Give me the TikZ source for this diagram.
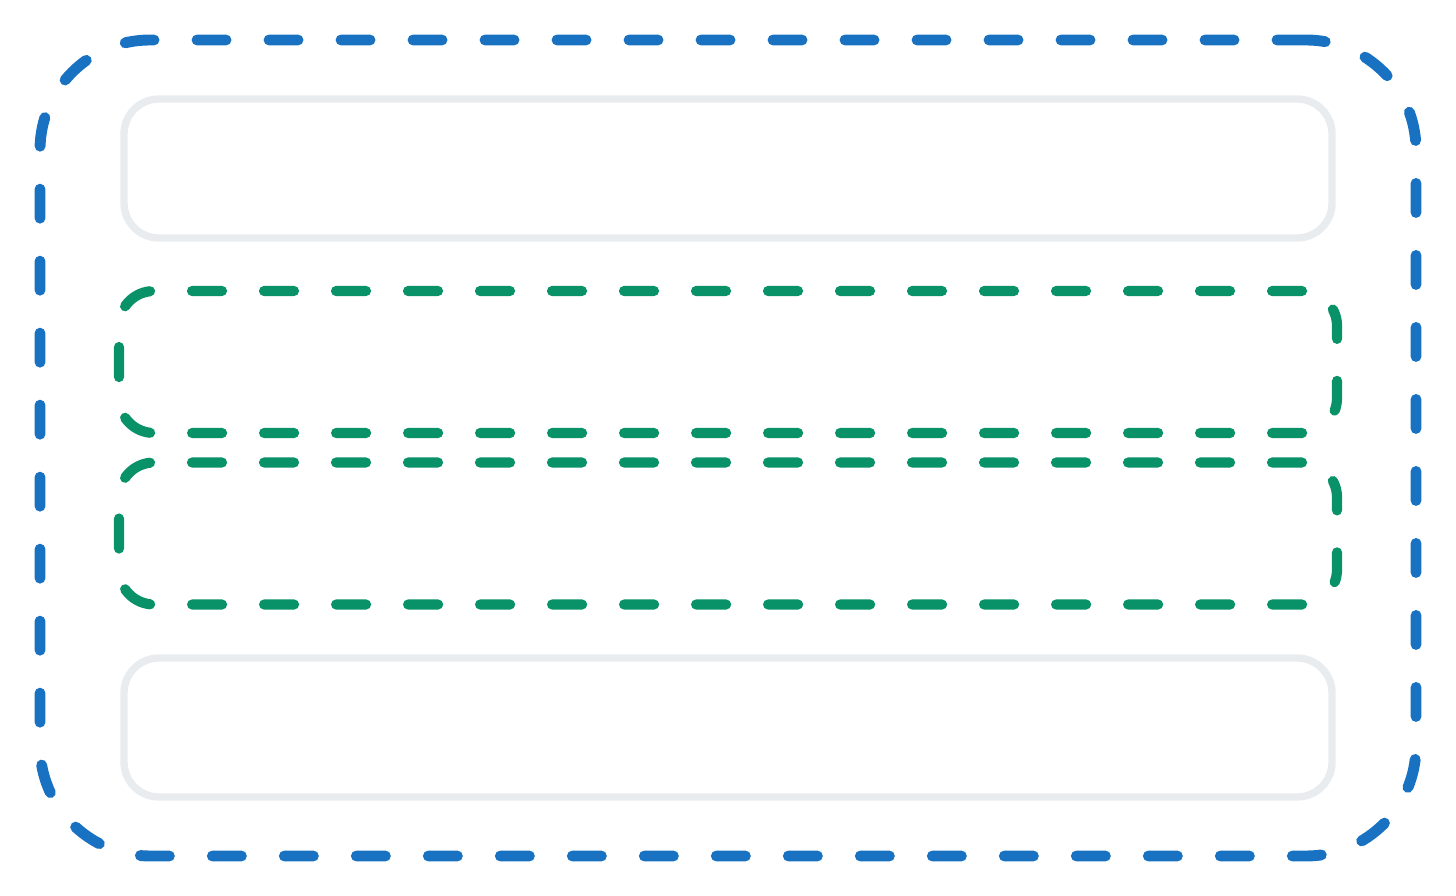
\documentclass[tikz,border=0pt]{standalone}
\usepackage{tikz}
\usetikzlibrary{positioning}

\definecolor{frameblue}{HTML}{1971C2}
\definecolor{slotgreen}{HTML}{099268}
\definecolor{slotgray}{HTML}{E9ECEF}

\begin{document}
\begin{tikzpicture}[
                outer/.style={rectangle,draw=frameblue,line width=3.1pt,rounded corners=1.1cm,
                    dash pattern=on 0.29cm off 0.43cm,line cap=round,minimum width=13.76cm,minimum height=8.16cm},
                solid slot/.style={rectangle,draw=slotgray,line width=2.1pt,rounded corners=0.35cm,
                    minimum width=12.08cm,minimum height=1.39cm},
                dashed slot/.style={rectangle,draw=slotgreen,line width=2.9pt,rounded corners=0.35cm,
                    dash pattern=on 0.3cm off 0.42cm,line cap=round,minimum width=12.18cm,minimum height=1.42cm},
            ]
                \useasboundingbox (0,0) rectangle (14.56,8.95);
                \node[outer] (frame) at (7.28,4.47) { };
                \node[solid slot] (top) at (7.28,7.265) { };
                \node[dashed slot] (upper) at (7.28,5.33) { };
                \node[dashed slot] (lower) at (7.28,3.615) { };
                \node[solid slot] (bottom) at (7.28,1.675) { };
            \end{tikzpicture}
\end{document}
